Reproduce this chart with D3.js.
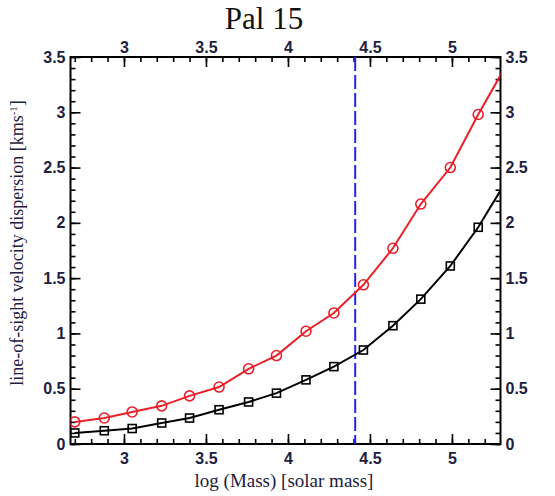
<!DOCTYPE html>
<html><head><meta charset="utf-8">
<script src="https://cdn.jsdelivr.net/npm/d3@7"></script>
<style>body{margin:0;background:#fff}</style>
</head><body>
<svg id="chart" width="555" height="496"></svg>
<script>
// log10 of cluster mass (solar masses) for each model
const logMass = [2.70, 2.88, 3.05, 3.23, 3.40, 3.58, 3.76, 3.93, 4.11, 4.28, 4.46, 4.64, 4.81, 4.99, 5.16, 5.34];
// line-of-sight velocity dispersion, km/s
const sigmaRed   = [0.20, 0.235, 0.29, 0.345, 0.435, 0.515, 0.68, 0.80, 1.02, 1.185, 1.44, 1.77, 2.17, 2.50, 2.98, 3.45];
const sigmaBlack = [0.10, 0.12, 0.14, 0.19, 0.235, 0.31, 0.38, 0.46, 0.58, 0.70, 0.85, 1.07, 1.31, 1.61, 1.96, 2.40];
// mass estimate marked by the dashed line
const massMark = 4.41;
const xTicks = [3, 3.5, 4, 4.5, 5];
const yTicks = [0, 0.5, 1, 1.5, 2, 2.5, 3, 3.5];
const titleText = "Pal 15";
const xLabel = "log (Mass) [solar mass]";

const svg = d3.select("#chart");
const L = 70.5, R = 500.5, T = 57, B = 444;

const x = d3.scaleLinear().domain([2.674, 5.296]).range([L, R]);
const y = d3.scaleLinear().domain([0, 3.5]).range([B, T]);

const tickFont = "'Liberation Sans', Arial, sans-serif";
const serif = "'Liberation Serif', 'Times New Roman', serif";
const labelColor = "#1e2040";

svg.append("defs").append("clipPath").attr("id", "plotArea")
  .append("rect").attr("x", L).attr("y", T).attr("width", R - L).attr("height", B - T);

// minor tick positions every 0.1
const xMinor = d3.range(27, 53).map(d => d / 10);
const yMinor = d3.range(0, 36).map(d => d / 10);

function styleAxis(g) {
  g.select(".domain").remove();
  g.selectAll(".tick line").attr("stroke", "#000").attr("stroke-width", 1.6);
  g.selectAll(".tick text").attr("fill", labelColor)
    .style("font-family", tickFont).style("font-size", "16px").style("font-weight", "bold");
}

// minor ticks on all four sides
svg.append("g").attr("transform", `translate(0,${B})`)
  .call(d3.axisBottom(x).tickValues(xMinor).tickSize(-5).tickFormat("")).call(styleAxis);
svg.append("g").attr("transform", `translate(0,${T})`)
  .call(d3.axisTop(x).tickValues(xMinor).tickSize(-5).tickFormat("")).call(styleAxis);
svg.append("g").attr("transform", `translate(${L},0)`)
  .call(d3.axisLeft(y).tickValues(yMinor).tickSize(-5).tickFormat("")).call(styleAxis);
svg.append("g").attr("transform", `translate(${R},0)`)
  .call(d3.axisRight(y).tickValues(yMinor).tickSize(-5).tickFormat("")).call(styleAxis);

// major ticks with labels
const fmt = d => String(d);
svg.append("g").attr("transform", `translate(0,${B})`)
  .call(d3.axisBottom(x).tickValues(xTicks).tickSize(-10).tickPadding(9).tickFormat(fmt)).call(styleAxis);
svg.append("g").attr("transform", `translate(0,${T})`)
  .call(d3.axisTop(x).tickValues(xTicks).tickSize(-10).tickPadding(4).tickFormat(fmt)).call(styleAxis);
svg.append("g").attr("transform", `translate(${L},0)`)
  .call(d3.axisLeft(y).tickValues(yTicks).tickSize(-10).tickPadding(5).tickFormat(fmt)).call(styleAxis);
svg.append("g").attr("transform", `translate(${R},0)`)
  .call(d3.axisRight(y).tickValues(yTicks).tickSize(-10).tickPadding(5).tickFormat(fmt)).call(styleAxis);

// plot frame
svg.append("rect").attr("x", L).attr("y", T).attr("width", R - L).attr("height", B - T)
  .attr("fill", "none").attr("stroke", "#000").attr("stroke-width", 2);

const plot = svg.append("g").attr("clip-path", "url(#plotArea)");

// dashed mass marker
plot.append("line")
  .attr("x1", x(massMark)).attr("x2", x(massMark)).attr("y1", T).attr("y2", B)
  .attr("stroke", "#2424f0").attr("stroke-width", 2).attr("stroke-dasharray", "14,4");

const line = d3.line().x((d, i) => x(logMass[i])).y(d => y(d));

// red series: circles
plot.append("path").datum(sigmaRed).attr("d", line)
  .attr("fill", "none").attr("stroke", "#e8202a").attr("stroke-width", 2);
plot.selectAll(".circ").data(sigmaRed).join("circle").attr("class", "circ")
  .attr("cx", (d, i) => x(logMass[i])).attr("cy", d => y(d)).attr("r", 5)
  .attr("fill", "none").attr("stroke", "#e8202a").attr("stroke-width", 1.6);

// black series: squares
plot.append("path").datum(sigmaBlack).attr("d", line)
  .attr("fill", "none").attr("stroke", "#000").attr("stroke-width", 2);
plot.selectAll(".sq").data(sigmaBlack).join("rect").attr("class", "sq")
  .attr("x", (d, i) => x(logMass[i]) - 4).attr("y", d => y(d) - 4)
  .attr("width", 8).attr("height", 8)
  .attr("fill", "none").attr("stroke", "#000").attr("stroke-width", 1.6);

// title and axis titles
svg.append("text").attr("x", 264).attr("y", 29).attr("text-anchor", "middle")
  .style("font-family", serif).style("font-size", "31px").attr("fill", "#111")
  .text(titleText);

svg.append("text").attr("x", 284).attr("y", 487).attr("text-anchor", "middle")
  .style("font-family", serif).style("font-size", "19px").attr("fill", labelColor)
  .text(xLabel);

const yl = svg.append("text")
  .attr("transform", `translate(23,243) rotate(-90)`)
  .attr("text-anchor", "middle")
  .style("font-family", serif).style("font-size", "18px").attr("fill", labelColor);
yl.append("tspan").text("line-of-sight velocity dispersion [kms");
yl.append("tspan").attr("dy", -6).style("font-size", "11px").text("-1");
yl.append("tspan").attr("dy", 6).text("]");
</script>
</body></html>
